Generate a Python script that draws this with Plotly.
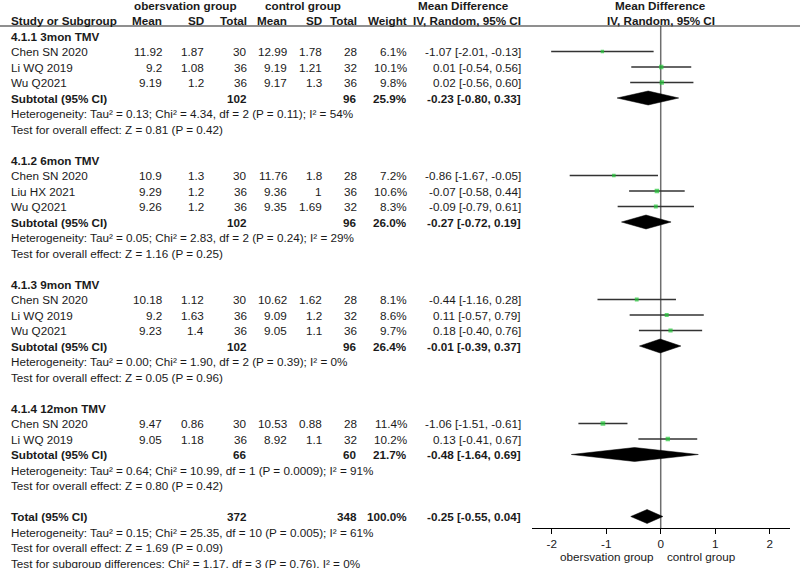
import plotly.graph_objects as go

# ---------------- data ----------------
groups = ["4.1.1 3mon TMV", "4.1.2 6mon TMV", "4.1.3 9mon TMV", "4.1.4 12mon TMV"]
study = ["Chen SN 2020", "Li WQ 2019", "Wu Q2021",
         "Chen SN 2020", "Liu HX 2021", "Wu Q2021",
         "Chen SN 2020", "Li WQ 2019", "Wu Q2021",
         "Chen SN 2020", "Li WQ 2019"]
grp = [0, 0, 0, 1, 1, 1, 2, 2, 2, 3, 3]
obs_mean = [11.92, 9.2, 9.19, 10.9, 9.29, 9.26, 10.18, 9.2, 9.23, 9.47, 9.05]
obs_sd = [1.87, 1.08, 1.2, 1.3, 1.2, 1.2, 1.12, 1.63, 1.4, 0.86, 1.18]
obs_n = [30, 36, 36, 30, 36, 36, 30, 36, 36, 30, 36]
ctl_mean = [12.99, 9.19, 9.17, 11.76, 9.36, 9.35, 10.62, 9.09, 9.05, 10.53, 8.92]
ctl_sd = [1.78, 1.21, 1.3, 1.8, 1, 1.69, 1.62, 1.2, 1.1, 0.88, 1.1]
ctl_n = [28, 32, 36, 28, 36, 32, 28, 32, 36, 28, 32]
weight = [6.1, 10.1, 9.8, 7.2, 10.6, 8.3, 8.1, 8.6, 9.7, 11.4, 10.2]
md = [-1.07, 0.01, 0.02, -0.86, -0.07, -0.09, -0.44, 0.11, 0.18, -1.06, 0.13]
ci_lo = [-2.01, -0.54, -0.56, -1.67, -0.58, -0.79, -1.16, -0.57, -0.40, -1.51, -0.41]
ci_hi = [-0.13, 0.56, 0.60, -0.05, 0.44, 0.61, 0.28, 0.79, 0.76, -0.61, 0.67]

sub_obs_n = [102, 102, 102, 66]
sub_ctl_n = [96, 96, 96, 60]
sub_weight = [25.9, 26.0, 26.4, 21.7]
sub_md = [-0.23, -0.27, -0.01, -0.48]
sub_lo = [-0.80, -0.72, -0.39, -1.64]
sub_hi = [0.33, 0.19, 0.37, 0.69]
sub_het = ["Heterogeneity: Tau² = 0.13; Chi² = 4.34, df = 2 (P = 0.11); I² = 54%",
           "Heterogeneity: Tau² = 0.05; Chi² = 2.83, df = 2 (P = 0.24); I² = 29%",
           "Heterogeneity: Tau² = 0.00; Chi² = 1.90, df = 2 (P = 0.39); I² = 0%",
           "Heterogeneity: Tau² = 0.64; Chi² = 10.99, df = 1 (P = 0.0009); I² = 91%"]
sub_test = ["Test for overall effect: Z = 0.81 (P = 0.42)",
            "Test for overall effect: Z = 1.16 (P = 0.25)",
            "Test for overall effect: Z = 0.05 (P = 0.96)",
            "Test for overall effect: Z = 0.80 (P = 0.42)"]

total_obs_n = 372
total_ctl_n = 348
total_weight = 100.0
total_md, total_lo, total_hi = -0.25, -0.55, 0.04
footer = ["Heterogeneity: Tau² = 0.15; Chi² = 25.35, df = 10 (P = 0.005); I² = 61%",
          "Test for overall effect: Z = 1.69 (P = 0.09)",
          "Test for subgroup differences: Chi² = 1.17, df = 3 (P = 0.76), I² = 0%"]

tick_vals = [-2, -1, 0, 1, 2]
tick_text = ["-2", "-1", "0", "1", "2"]

# ---------------- layout helpers ----------------
W, H = 800, 568
ROW0, ROWH = 36.0, 15.5          # pixel y of row 0, row height


def prow(py):
    return (py - ROW0) / ROWH


FONT = "Liberation Sans, Arial, sans-serif"
FS = 11.7
TXT = "#1a1a1a"
annotations = []


def txt(s, px, row, anchor="left", bold=False, xref="paper"):
    x = px / W if xref == "paper" else px
    annotations.append(dict(
        text=f"<b>{s}</b>" if bold else s, x=x, y=row, xref=xref, yref="y",
        xanchor=anchor, yanchor="middle", showarrow=False,
        font=dict(family=FONT, size=FS, color=TXT)))


# column right edges (px)
C_OM, C_OS, C_ON, C_CM, C_CS, C_CN, C_W, C_CI = 163, 205, 248, 288, 323, 358, 408, 522
fmt = lambda v: f"{v:g}"
ci_txt = lambda m, l, h: f"{m:.2f} [{l:.2f}, {h:.2f}]"

# headers
txt("obersvation group", 185, -2, "center", True)
txt("control group", 303, -2, "center", True)
txt("Mean Difference", 464, -2, "center", True)
txt("Mean Difference", 0, -2, "center", True, xref="x")
txt("Study or Subgroup", 9, -1, "left", True)
for s, c in zip(["Mean", "SD", "Total", "Mean", "SD", "Total", "Weight", "IV, Random, 95% CI"],
                [C_OM, C_OS, C_ON, C_CM, C_CS, C_CN, C_W, C_CI]):
    txt(s, c + 1, -1, "right", True)
txt("IV, Random, 95% CI", 0, -1, "center", True, xref="x")

fig = go.Figure()

study_rows, sub_rows = [], []
r = 0
for g, gname in enumerate(groups):
    txt(gname, 9, r, "left", True)
    r += 1
    for i in [k for k in range(len(study)) if grp[k] == g]:
        study_rows.append(r)
        txt(study[i], 9, r)
        for v, c in zip([obs_mean[i], obs_sd[i], obs_n[i], ctl_mean[i], ctl_sd[i], ctl_n[i]],
                        [C_OM, C_OS, C_ON, C_CM, C_CS, C_CN]):
            txt(fmt(v), c + 1, r, "right")
        txt(f"{weight[i]:.1f}%", C_W + 1, r, "right")
        txt(ci_txt(md[i], ci_lo[i], ci_hi[i]), C_CI + 1, r, "right")
        r += 1
    sub_rows.append(r)
    txt("Subtotal (95% CI)", 9, r, "left", True)
    txt(str(sub_obs_n[g]), C_ON + 1, r, "right", True)
    txt(str(sub_ctl_n[g]), C_CN + 1, r, "right", True)
    txt(f"{sub_weight[g]:.1f}%", C_W + 1, r, "right", True)
    txt(ci_txt(sub_md[g], sub_lo[g], sub_hi[g]), C_CI + 1, r, "right", True)
    r += 1
    txt(sub_het[g], 9, r)
    r += 1
    txt(sub_test[g], 9, r)
    r += 2

total_row = r
txt("Total (95% CI)", 9, r, "left", True)
txt(str(total_obs_n), C_ON + 1, r, "right", True)
txt(str(total_ctl_n), C_CN + 1, r, "right", True)
txt(f"{total_weight:.1f}%", C_W + 1, r, "right", True)
txt(ci_txt(total_md, total_lo, total_hi), C_CI + 1, r, "right", True)
for f in footer:
    r += 1
    txt(f, 9, r)

# axis labels below ticks
annotations.append(dict(text="obersvation group", x=-0.08, y=prow(556), xref="x", yref="y",
                        xanchor="right", yanchor="middle", showarrow=False,
                        font=dict(family=FONT, size=FS, color=TXT)))
annotations.append(dict(text="control group", x=0.08, y=prow(556), xref="x", yref="y",
                        xanchor="left", yanchor="middle", showarrow=False,
                        font=dict(family=FONT, size=FS, color=TXT)))

# zero line
fig.add_trace(go.Scatter(x=[0, 0], y=[prow(26), prow(528)], mode="lines",
                         line=dict(color="#6e6e6e", width=1.5), hoverinfo="skip", showlegend=False))

# CI lines
for i, row in enumerate(study_rows):
    fig.add_trace(go.Scatter(x=[ci_lo[i], ci_hi[i]], y=[row, row], mode="lines",
                             line=dict(color="#333333", width=1.5), hoverinfo="skip",
                             showlegend=False))
# squares
fig.add_trace(go.Scatter(x=md, y=study_rows, mode="markers",
                         marker=dict(symbol="square", color="#22c837",
                                     size=[1.8 + 0.25 * w for w in weight], line=dict(width=0)),
                         hoverinfo="skip", showlegend=False))

# diamonds
DH = 0.45
dia_sets = list(zip(sub_rows, sub_md, sub_lo, sub_hi)) + [(total_row, total_md, total_lo, total_hi)]
for row, m, lo, hi in dia_sets:
    fig.add_trace(go.Scatter(x=[lo, m, hi, m, lo], y=[row, row - DH, row, row + DH, row],
                             mode="lines", fill="toself", fillcolor="black",
                             line=dict(color="black", width=0.5), hoverinfo="skip",
                             showlegend=False))

# header rule
shapes = [dict(type="line", xref="paper", yref="y", x0=0, x1=1, y0=prow(26), y1=prow(26),
               line=dict(color="#202020", width=1.2))]

axis_y_px = 528
fig.update_layout(
    width=W, height=H, margin=dict(l=0, r=0, t=0, b=0),
    paper_bgcolor="white", plot_bgcolor="white",
    annotations=annotations, shapes=shapes,
    xaxis=dict(domain=[531.7 / W, 790 / W], range=[-2.367, 2.372], anchor="free",
               position=(H - axis_y_px) / H, showgrid=False, zeroline=False,
               showline=True, linecolor="black", linewidth=1,
               tickmode="array", tickvals=tick_vals, ticktext=tick_text,
               ticks="outside", ticklen=5, tickcolor="black", tickwidth=1,
               tickfont=dict(family=FONT, size=FS, color=TXT)),
    yaxis=dict(domain=[0, 1], range=[prow(H), prow(0)], visible=False,
               showgrid=False, zeroline=False),
)

fig.write_html("out.html", config={"displayModeBar": False},
               post_script="document.body.style.margin='0';")
